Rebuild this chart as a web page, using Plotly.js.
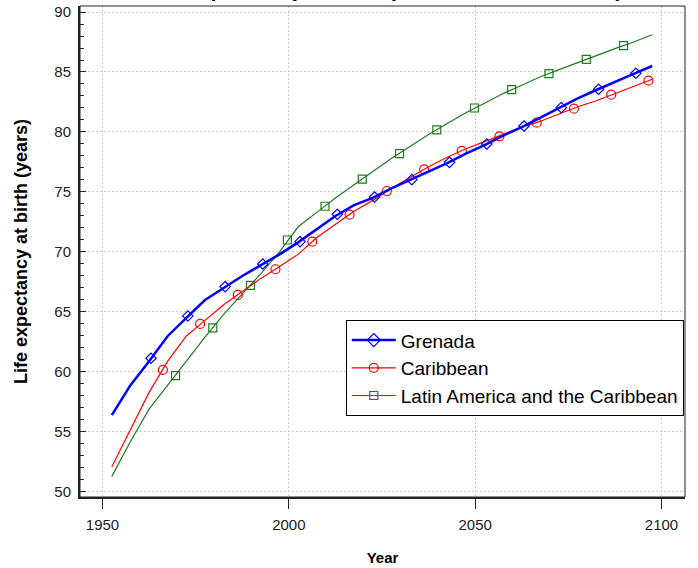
<!DOCTYPE html>
<html>
<head>
<meta charset="utf-8">
<script src="https://cdn.plot.ly/plotly-3.0.1.min.js"></script>
<style>html,body{margin:0;padding:0;background:#fff;}#chart{width:698px;height:568px;}</style>
</head>
<body>
<div id="chart"></div>
<script>
// Period midpoints (5-year periods)
var years = [1952.5,1957.5,1962.5,1967.5,1972.5,1977.5,1982.5,1987.5,1992.5,1997.5,
             2002.5,2007.5,2012.5,2017.5,2022.5,2027.5,2032.5,2037.5,2042.5,2047.5,
             2052.5,2057.5,2062.5,2067.5,2072.5,2077.5,2082.5,2087.5,2092.5,2097.5];

var grenada = [56.4,58.9,60.9,63.0,64.5,66.0,67.0,68.0,68.9,69.8,
               70.8,71.9,73.0,73.9,74.5,75.3,76.0,76.7,77.4,78.2,
               78.9,79.7,80.4,81.2,82.0,82.8,83.5,84.2,84.85,85.5];

var caribbean = [52.1,55.2,58.3,60.9,63.0,64.3,65.6,66.7,67.8,68.8,
                 69.8,71.2,72.3,73.4,74.3,75.3,76.2,77.1,77.9,78.6,
                 79.2,79.8,80.4,80.9,81.5,82.1,82.6,83.2,83.8,84.4];

var latam = [51.3,54.2,56.9,58.9,61.0,62.9,64.8,66.5,68.2,70.0,
             72.1,73.3,74.5,75.6,76.7,77.8,78.8,79.8,80.7,81.6,
             82.4,83.2,83.9,84.6,85.2,85.8,86.4,86.95,87.5,88.1];

// Marker positions
var grenadaMarkX = [1963.0,1972.9,1982.9,1993.0,2003.0,2013.0,2023.0,2033.0,2043.1,2053.1,2063.1,2073.1,2083.1,2093.1];
var grenadaMarkY = [61.14,64.67,67.11,69.0,70.86,73.14,74.58,76.03,77.47,79.0,80.5,82.03,83.56,84.89];
var caribMarkX = [1966.2,1976.2,1986.3,1996.4,2006.3,2016.3,2026.3,2036.3,2046.4,2056.5,2066.5,2076.5,2086.5,2096.5];
var caribMarkY = [60.17,64.0,66.42,68.56,70.86,73.11,75.08,76.89,78.42,79.64,80.78,81.94,83.11,84.28];
var latamMarkX = [1969.6,1979.6,1989.7,1999.6,2009.7,2019.7,2029.7,2039.7,2049.8,2059.8,2069.8,2079.8,2089.8];
var latamMarkY = [59.69,63.67,67.22,71.0,73.81,76.08,78.19,80.17,82.0,83.53,84.86,86.06,87.19];

var seriesNames = ["Grenada","Caribbean","Latin America and the Caribbean"];
var xTicks = [1950,2000,2050,2100];
var yTicks = [50,55,60,65,70,75,80,85,90];

var colBlue = "#0000FF", colRed = "#FF0000", colGreen = "#1E7B1E";

var traces = [];
// legend entries
traces.push({x:[null],y:[null],mode:"lines+markers",name:seriesNames[0],
  line:{color:colBlue,width:2.5},marker:{symbol:"diamond-open",size:10,color:colBlue,line:{width:1.2,color:colBlue}}});
traces.push({x:[null],y:[null],mode:"lines+markers",name:seriesNames[1],
  line:{color:colRed,width:1.2},marker:{symbol:"circle-open",size:9,color:colRed,line:{width:1.2,color:colRed}}});
traces.push({x:[null],y:[null],mode:"lines+markers",name:seriesNames[2],
  line:{color:colGreen,width:1.2},marker:{symbol:"square-open",size:8,color:colGreen,line:{width:1.2,color:colGreen}}});

// data lines
traces.push({x:years,y:latam,mode:"lines",showlegend:false,line:{color:colGreen,width:1.2},hoverinfo:"skip"});
traces.push({x:latamMarkX,y:latamMarkY,mode:"markers",showlegend:false,
  marker:{symbol:"square-open",size:8,color:colGreen,line:{width:1.2,color:colGreen}}});
traces.push({x:years,y:caribbean,mode:"lines",showlegend:false,line:{color:colRed,width:1.2},hoverinfo:"skip"});
traces.push({x:caribMarkX,y:caribMarkY,mode:"markers",showlegend:false,
  marker:{symbol:"circle-open",size:9,color:colRed,line:{width:1.2,color:colRed}}});
traces.push({x:years,y:grenada,mode:"lines",showlegend:false,line:{color:colBlue,width:2.5},hoverinfo:"skip"});
traces.push({x:grenadaMarkX,y:grenadaMarkY,mode:"markers",showlegend:false,
  marker:{symbol:"diamond-open",size:8,color:colBlue,line:{width:1.2,color:colBlue}}});

var axisColor = "#222222";
var gridCol = "#cdcdcd";
var layout = {
  width:698, height:568,
  margin:{l:80,r:13,t:6,b:71},
  paper_bgcolor:"#fff", plot_bgcolor:"#fff",
  font:{family:"Arial, 'Liberation Sans', sans-serif",color:"#000"},
  title:{text:"Life expectancy at birth (both sexes combined)",
    font:{family:"Arial, 'Liberation Sans', sans-serif",size:21.5,weight:"bold",color:"#000"},
    xref:"paper",x:0.5,xanchor:"center",yref:"container",y:1,yanchor:"bottom",pad:{b:4}},
  xaxis:{range:[1943.96,2106.3],tickvals:xTicks,ticktext:xTicks.map(String),
    ticks:"outside",ticklen:10,tickcolor:axisColor,tickwidth:1,
    tickfont:{size:15,color:"#222"},ticklabelstandoff:3,
    showgrid:true,gridcolor:gridCol,griddash:"2px,2px",gridwidth:1,
    showline:true,linecolor:axisColor,linewidth:2,zeroline:false,
    title:{text:"Year",font:{size:15,weight:"bold",color:"#000"},standoff:20}},
  yaxis:{range:[49.58,90.5],tickvals:yTicks,ticktext:yTicks.map(String),
    ticks:"inside",ticklen:6,tickcolor:axisColor,tickwidth:1,
    minor:{dtick:1,ticks:"inside",ticklen:4,tickcolor:axisColor,showgrid:false},
    tickfont:{size:15,color:"#222"},ticklabelstandoff:4,
    showgrid:true,gridcolor:gridCol,griddash:"2px,2px",gridwidth:1,
    showline:true,linecolor:axisColor,linewidth:2,zeroline:false,
    title:{text:"Life expectancy at birth (years)",font:{size:18,weight:"bold",color:"#000"},standoff:22}},
  shapes:[{type:"rect",xref:"paper",yref:"paper",x0:0,x1:1,y0:0,y1:1,line:{color:axisColor,width:1}}],
  legend:{x:0.998,xanchor:"right",y:0.36,yanchor:"top",bgcolor:"#fff",bordercolor:"#000",borderwidth:1,
    font:{size:19,color:"#000"},traceorder:"normal",tracegroupgap:0,itemwidth:44},
  showlegend:true
};

Plotly.newPlot("chart",traces,layout,{displayModeBar:false,staticPlot:true});
</script>
</body>
</html>
